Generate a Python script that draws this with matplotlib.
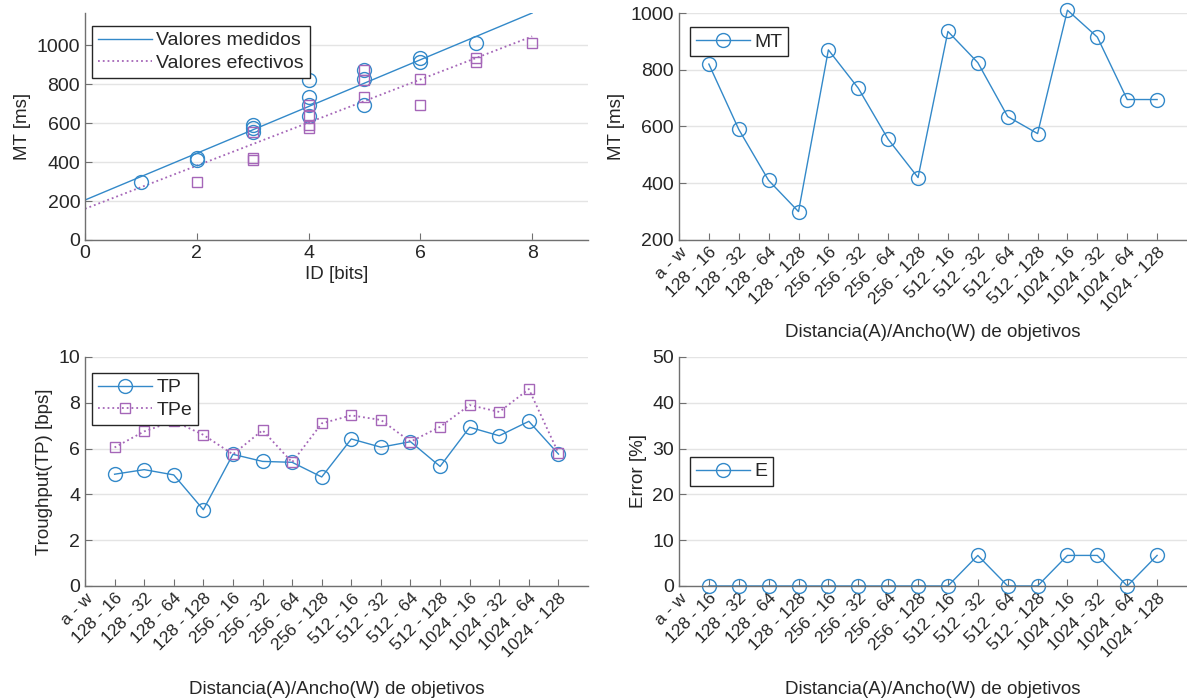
import matplotlib
matplotlib.use("Agg")
import matplotlib.pyplot as plt
import numpy as np

plt.rcParams['font.family'] = ['Liberation Sans', 'DejaVu Sans']

# ---- data ----
labels = ["a - w", "128 - 16", "128 - 32", "128 - 64", "128 - 128",
          "256 - 16", "256 - 32", "256 - 64", "256 - 128",
          "512 - 16", "512 - 32", "512 - 64", "512 - 128",
          "1024 - 16", "1024 - 32", "1024 - 64", "1024 - 128"]
cond = list(range(1, 17))
MT = [820, 590, 410, 300, 870, 735, 555, 420, 935, 825, 635, 575, 1010, 915, 695, 695]
ID = [4, 3, 2, 1, 5, 4, 3, 2, 6, 5, 4, 3, 7, 6, 5, 4]
IDe = [5, 4, 3, 2, 5, 5, 3, 3, 7, 6, 4, 4, 8, 7, 6, 4]
TP = [4.88, 5.08, 4.85, 3.33, 5.75, 5.44, 5.40, 4.76, 6.42, 6.06, 6.30, 5.22, 6.93, 6.56, 7.19, 5.76]
TPe = [6.05, 6.75, 7.20, 6.60, 5.75, 6.80, 5.40, 7.10, 7.45, 7.25, 6.30, 6.95, 7.90, 7.60, 8.60, 5.80]
E = [0, 0, 0, 0, 0, 0, 0, 0, 0, 6.67, 0, 0, 6.67, 6.67, 0, 6.67]
fit_x = [0, 8]
fit_meas = [205, 1165]
fit_eff = [160, 1045]

BLUE = '#3389C9'
PURPLE = '#A566B8'
TXT = '#262626'
AX = '#707070'
FS = 14      # y tick labels / legends
XFS = 12.5   # rotated category labels
LFS = 13.5   # axis labels

fig = plt.figure(figsize=(11.87, 6.99), dpi=100)

def style(ax):
    for s in ['top', 'right']:
        ax.spines[s].set_visible(False)
    for s in ['left', 'bottom']:
        ax.spines[s].set_color(AX)
        ax.spines[s].set_linewidth(1.0)
    ax.tick_params(direction='in', colors=AX, labelcolor=TXT, labelsize=FS, length=5, width=0.8)
    ax.yaxis.grid(True, color='#E4E4E4', linewidth=1.0)
    ax.set_axisbelow(True)

def leg(ax, anchor):
    lg = ax.legend(loc='upper left', bbox_to_anchor=anchor, borderaxespad=0,
                   fancybox=False, framealpha=1, edgecolor=TXT, fontsize=FS,
                   handlelength=2.8, borderpad=0.3, labelspacing=0.25, handletextpad=0.2)
    lg.get_frame().set_linewidth(1.0)
    for t in lg.get_texts():
        t.set_color(TXT)
    return lg

def catx(ax, pad):
    ax.set_xlim(0, 17)
    ax.set_xticks(range(17))
    ax.set_xticklabels(labels, rotation=45, ha='right', va='top', rotation_mode='anchor',
                       fontsize=XFS)
    ax.set_xlabel('Distancia(A)/Ancho(W) de objetivos', fontsize=LFS, color=TXT, labelpad=pad)

# top-left
ax1 = fig.add_axes([0.0716, 0.6567, 0.4238, 0.3247])
style(ax1)
ax1.plot(fit_x, fit_meas, '-', color=BLUE, lw=1.0, label='Valores medidos')
ax1.plot(fit_x, fit_eff, ':', color=PURPLE, lw=1.3, label='Valores efectivos')
ax1.plot(ID, MT, 'o', mfc='none', mec=BLUE, ms=10, mew=1.0, clip_on=False)
ax1.plot(IDe, MT, 's', mfc='none', mec=PURPLE, ms=7.5, mew=1.0, clip_on=False)
ax1.set_xlim(0, 9)
ax1.set_ylim(0, 1165)
ax1.set_xticks([0, 2, 4, 6, 8])
ax1.set_yticks(range(0, 1001, 200))
ax1.set_xlabel('ID [bits]', fontsize=LFS, color=TXT, labelpad=3)
ax1.set_ylabel('MT [ms]', fontsize=LFS, color=TXT)
leg(ax1, (0.014, 0.943))

# top-right
ax2 = fig.add_axes([0.572, 0.6567, 0.428, 0.3247])
style(ax2)
ax2.plot(cond, MT, '-o', color=BLUE, mfc='none', ms=10, lw=1.0, mew=1.0, label='MT', clip_on=False)
ax2.set_ylim(200, 1000)
ax2.set_yticks(range(200, 1001, 200))
catx(ax2, 7)
ax2.set_ylabel('MT [ms]', fontsize=LFS, color=TXT)
leg(ax2, (0.0217, 0.938))

# bottom-left
ax3 = fig.add_axes([0.0716, 0.1617, 0.4238, 0.3276])
style(ax3)
ax3.plot(cond, TP, '-o', color=BLUE, mfc='none', ms=10, lw=1.0, mew=1.0, label='TP', clip_on=False)
ax3.plot(cond, TPe, ':s', color=PURPLE, mfc='none', ms=7.5, lw=1.3, mew=1.0, label='TPe', clip_on=False)
ax3.set_ylim(0, 10)
ax3.set_yticks(range(0, 11, 2))
catx(ax3, 15)
ax3.set_ylabel('Troughput(TP) [bps]', fontsize=LFS, color=TXT)
leg(ax3, (0.014, 0.930))

# bottom-right
ax4 = fig.add_axes([0.572, 0.1617, 0.428, 0.3276])
style(ax4)
ax4.plot(cond, E, '-o', color=BLUE, mfc='none', ms=10, lw=1.0, mew=1.0, label='E', clip_on=False)
ax4.set_ylim(0, 50)
ax4.set_yticks(range(0, 51, 10))
catx(ax4, 15)
ax4.set_ylabel('Error [%]', fontsize=LFS, color=TXT)
leg(ax4, (0.0217, 0.563))

fig.savefig('out.png', dpi=100, facecolor='white')
